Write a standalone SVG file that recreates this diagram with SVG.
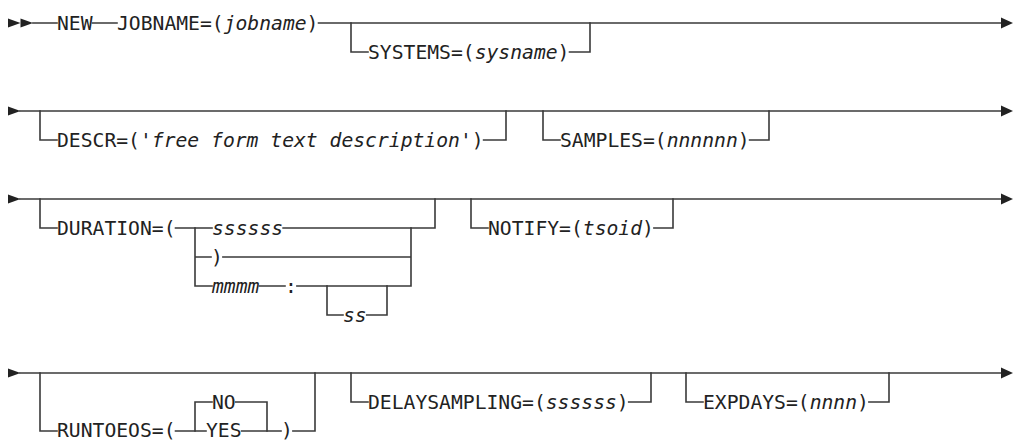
<svg xmlns="http://www.w3.org/2000/svg" width="1013" height="440" viewBox="0 0 1013 440">
<style>
  .bg { fill: #ffffff; }
  .t { font-family: "DejaVu Sans Mono", "Liberation Mono", monospace; font-size: 19.6px; fill: #222222; }
  .i { font-style: italic; }
  .c { fill: none; stroke: #3a3a3a; stroke-width: 1.6; stroke-linecap: square; }
  .ah { fill: #222222; }
</style>
<rect class="bg" x="0" y="0" width="1013" height="440"/>

<g id="connectors">
  <!-- row 1 -->
  <path class="c" d="M33 23 H57 M92.5 23 H117 M318.5 23 H1002"/>
  <path class="c" d="M351 23 V52 H368 M569.5 52 H590 V23"/>
  <!-- row 2 -->
  <path class="c" d="M20 111 H1002"/>
  <path class="c" d="M40 111 V140 H57 M483.6 140 H506 V111"/>
  <path class="c" d="M543 111 V140 H560 M749.6 140 H769 V111"/>
  <!-- row 3 -->
  <path class="c" d="M20 199 H1002"/>
  <path class="c" d="M40 199 V228 H57 M175.5 228 H212 M283.1 228 H435 V199"/>
  <path class="c" d="M195 228 V286 M195 257 H211 M222.9 257 H411 M195 286 H212 M259.4 286 H285 M296.9 286 H411 V228"/>
  <path class="c" d="M327 286 V315 H343 M366.7 315 H387 V286"/>
  <path class="c" d="M471 199 V228 H488 M653.9 228 H673 V199"/>
  <!-- row 4 -->
  <path class="c" d="M20 373 H1002"/>
  <path class="c" d="M40 373 V431 H57 M175.5 431 H206 M241.6 431 H281 M292.9 431 H315 V373"/>
  <path class="c" d="M195 431 V402 H212 M235.7 402 H267 V431"/>
  <path class="c" d="M351 373 V402 H368 M628.7 402 H651 V373"/>
  <path class="c" d="M686 373 V402 H703 M868.9 402 H889 V373"/>
  <!-- arrowheads -->
  <polygon class="ah" points="8,18.5 20.5,23 8,27.5"/>
  <polygon class="ah" points="20.5,18.5 33,23 20.5,27.5"/>
  <polygon class="ah" points="1001,17.5 1013,23 1001,28.5"/>
  <polygon class="ah" points="8,106.5 20.5,111 8,115.5"/>
  <polygon class="ah" points="1001,105.5 1013,111 1001,116.5"/>
  <polygon class="ah" points="8,194.5 20.5,199 8,203.5"/>
  <polygon class="ah" points="1001,193.5 1013,199 1001,204.5"/>
  <polygon class="ah" points="8,368.5 20.5,373 8,377.5"/>
  <polygon class="ah" points="1001,367.5 1013,373 1001,378.5"/>
</g>

<g id="node-new"><text class="t" x="57" y="30" textLength="35.55" lengthAdjust="spacingAndGlyphs">NEW</text></g>
<g id="node-jobname">
  <text class="t" x="117" y="30" textLength="106.65" lengthAdjust="spacingAndGlyphs">JOBNAME=(</text>
  <text class="t i" x="223.65" y="30" textLength="82.95" lengthAdjust="spacingAndGlyphs">jobname</text>
  <text class="t" x="306.6" y="30" textLength="11.85" lengthAdjust="spacingAndGlyphs">)</text>
</g>
<g id="node-systems">
  <text class="t" x="368" y="59" textLength="106.65" lengthAdjust="spacingAndGlyphs">SYSTEMS=(</text>
  <text class="t i" x="474.65" y="59" textLength="82.95" lengthAdjust="spacingAndGlyphs">sysname</text>
  <text class="t" x="557.6" y="59" textLength="11.85" lengthAdjust="spacingAndGlyphs">)</text>
</g>

<g id="node-descr">
  <text class="t" x="57" y="147" textLength="94.8" lengthAdjust="spacingAndGlyphs">DESCR=('</text>
  <text class="t i" x="151.8" y="147" textLength="308.1" lengthAdjust="spacingAndGlyphs">free form text description</text>
  <text class="t" x="459.9" y="147" textLength="23.7" lengthAdjust="spacingAndGlyphs">')</text>
</g>
<g id="node-samples">
  <text class="t" x="560" y="147" textLength="106.65" lengthAdjust="spacingAndGlyphs">SAMPLES=(</text>
  <text class="t i" x="666.65" y="147" textLength="71.1" lengthAdjust="spacingAndGlyphs">nnnnnn</text>
  <text class="t" x="737.75" y="147" textLength="11.85" lengthAdjust="spacingAndGlyphs">)</text>
</g>

<g id="node-duration">
  <text class="t" x="57" y="235" textLength="118.5" lengthAdjust="spacingAndGlyphs">DURATION=(</text>
  <text class="t i" x="212" y="235" textLength="71.1" lengthAdjust="spacingAndGlyphs">ssssss</text>
  <text class="t" x="211" y="264" textLength="11.85" lengthAdjust="spacingAndGlyphs">)</text>
  <text class="t i" x="212" y="293" textLength="47.4" lengthAdjust="spacingAndGlyphs">mmmm</text>
  <text class="t" x="285" y="293" textLength="11.85" lengthAdjust="spacingAndGlyphs">:</text>
  <text class="t i" x="343" y="322" textLength="23.7" lengthAdjust="spacingAndGlyphs">ss</text>
</g>
<g id="node-notify">
  <text class="t" x="488" y="235" textLength="94.8" lengthAdjust="spacingAndGlyphs">NOTIFY=(</text>
  <text class="t i" x="582.8" y="235" textLength="59.25" lengthAdjust="spacingAndGlyphs">tsoid</text>
  <text class="t" x="642.05" y="235" textLength="11.85" lengthAdjust="spacingAndGlyphs">)</text>
</g>

<g id="node-runtoeos">
  <text class="t" x="57" y="436.5" textLength="118.5" lengthAdjust="spacingAndGlyphs">RUNTOEOS=(</text>
  <text class="t" x="212" y="409" textLength="23.7" lengthAdjust="spacingAndGlyphs">NO</text>
  <text class="t" x="206" y="436.5" textLength="35.55" lengthAdjust="spacingAndGlyphs">YES</text>
  <text class="t" x="281" y="436.5" textLength="11.85" lengthAdjust="spacingAndGlyphs">)</text>
</g>
<g id="node-delaysampling">
  <text class="t" x="368" y="409" textLength="177.75" lengthAdjust="spacingAndGlyphs">DELAYSAMPLING=(</text>
  <text class="t i" x="545.75" y="409" textLength="71.1" lengthAdjust="spacingAndGlyphs">ssssss</text>
  <text class="t" x="616.85" y="409" textLength="11.85" lengthAdjust="spacingAndGlyphs">)</text>
</g>
<g id="node-expdays">
  <text class="t" x="703" y="409" textLength="106.65" lengthAdjust="spacingAndGlyphs">EXPDAYS=(</text>
  <text class="t i" x="809.65" y="409" textLength="47.4" lengthAdjust="spacingAndGlyphs">nnnn</text>
  <text class="t" x="857.05" y="409" textLength="11.85" lengthAdjust="spacingAndGlyphs">)</text>
</g>
</svg>
